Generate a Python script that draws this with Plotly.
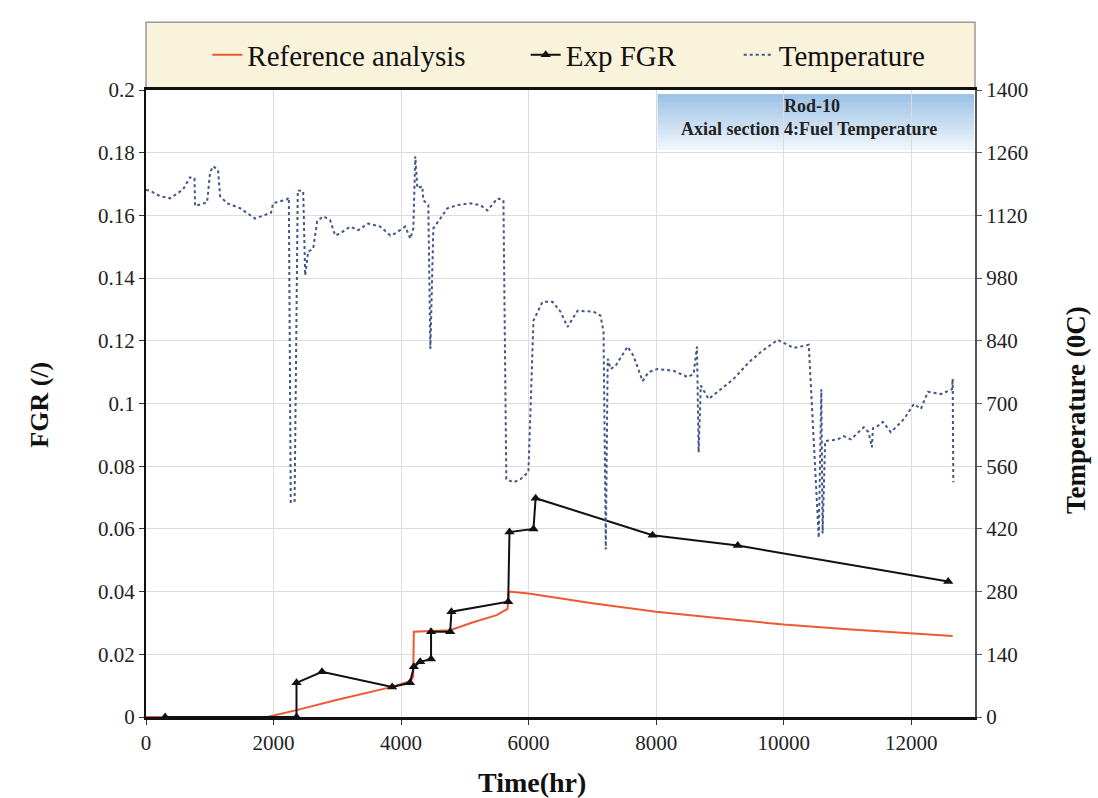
import plotly.graph_objects as go

# ---------------- data ----------------
ref_x = [0, 1900, 2360, 3000, 3860, 4150, 4190, 4200, 4770, 5130, 5500, 5670, 5690,
         6000, 7000, 8000, 9000, 10000, 11000, 12000, 12650]
ref_y = [0, 0, 0.0022, 0.0055, 0.0096, 0.0115, 0.0128, 0.0272, 0.0277, 0.0302, 0.0325,
         0.0345, 0.0400, 0.0394, 0.0363, 0.0336, 0.0315, 0.0295, 0.0280, 0.0268, 0.0258]

exp_x = [300, 2360, 2360, 2760, 3860, 4140, 4200, 4300, 4470, 4470, 4770, 4790,
         5680, 5700, 6076, 6110, 7944, 9280, 12580]
exp_y = [0, 0, 0.0109, 0.0144, 0.0096, 0.0109, 0.0160, 0.0176, 0.0185, 0.0272,
         0.0272, 0.0336, 0.0368, 0.0590, 0.0600, 0.0698, 0.0580, 0.0547, 0.0432]

temp_x = [0, 63, 220, 377, 581, 690, 760, 770, 958, 1005, 1052, 1130, 1162, 1272,
          1476, 1711, 1960, 1994, 2214, 2240, 2270, 2330, 2380, 2465, 2496, 2543,
          2622, 2685, 2779, 2889, 2967, 3046, 3203, 3328, 3485, 3674, 3831, 3909,
          4066, 4145, 4192, 4223, 4255, 4333, 4349, 4427, 4459, 4506, 4616, 4726,
          4883, 5087, 5244, 5354, 5511, 5605, 5650, 5762, 5872, 5997, 6076, 6217,
          6374, 6500, 6610, 6767, 7018, 7128, 7175, 7210, 7240, 7285, 7363, 7552,
          7646, 7787, 7881, 8023, 8274, 8494, 8588, 8640, 8666, 8700, 8823, 8965,
          9216, 9440, 9640, 9906, 10158, 10393, 10550, 10590, 10610, 10650, 10849,
          10943, 11053, 11257, 11330, 11383, 11400, 11477, 11555, 11681, 11885,
          12042, 12152, 12262, 12466, 12640, 12650, 12660]
temp_y = [1177, 1175, 1163, 1158, 1178, 1205, 1203, 1141, 1149, 1216, 1230, 1221,
          1163, 1147, 1136, 1113, 1126, 1147, 1156, 1160, 480, 480, 1176, 1174, 986,
          1039, 1046, 1107, 1118, 1109, 1075, 1080, 1095, 1087, 1102, 1095, 1075,
          1080, 1095, 1068, 1091, 1252, 1181, 1185, 1154, 1143, 822, 1091, 1113,
          1136, 1143, 1147, 1143, 1131, 1158, 1154, 531, 524, 531, 547, 885, 927,
          927, 905, 871, 907, 905, 896, 860, 374, 800, 777, 784, 827, 806, 750,
          770, 777, 773, 759, 766, 827, 591, 740, 710, 726, 755, 790, 815, 842,
          824, 831, 400, 732, 410, 616, 620, 627, 620, 647, 636, 602, 645, 650,
          659, 636, 665, 699, 688, 726, 721, 732, 755, 524]

x_ticks = [0, 2000, 4000, 6000, 8000, 10000, 12000]
x_tick_text = ["0", "2000", "4000", "6000", "8000", "10000", "12000"]
fgr_ticks = [0, 0.02, 0.04, 0.06, 0.08, 0.1, 0.12, 0.14, 0.16, 0.18, 0.2]
fgr_tick_text = ["0", "0.02", "0.04", "0.06", "0.08", "0.1", "0.12", "0.14", "0.16", "0.18", "0.2"]
temp_ticks = [0, 140, 280, 420, 560, 700, 840, 980, 1120, 1260, 1400]
temp_tick_text = [str(v) for v in temp_ticks]

FONT = "Liberation Serif"

fig = go.Figure()
fig.add_trace(go.Scatter(x=temp_x, y=temp_y, mode="lines", name="Temperature",
                         line=dict(color="#40568c", width=2, dash="dot"),
                         yaxis="y2", legend="legend3", showlegend=True))
fig.add_trace(go.Scatter(x=ref_x, y=ref_y, mode="lines", name="Reference analysis",
                         line=dict(color="#ec5a32", width=2), legend="legend",
                         showlegend=True))
fig.add_trace(go.Scatter(x=exp_x, y=exp_y, mode="lines+markers", name="Exp FGR",
                         line=dict(color="#111111", width=2),
                         marker=dict(symbol="triangle-up", size=9, color="#111111"),
                         legend="legend2", showlegend=True))

# legend background box
fig.add_shape(type="rect", xref="paper", yref="paper", x0=0, x1=1, y0=1.003, y1=1.108,
              fillcolor="#faf3dc", line=dict(color="#9a9a9a", width=1.5), layer="below")

# gradient annotation box
n = 14
top = (157, 195, 230)
bot = (240, 245, 252)
y_top, y_bot = 0.9936, 0.9043
for i in range(n):
    t = i / (n - 1)
    c = tuple(int(top[k] + (bot[k] - top[k]) * t) for k in range(3))
    ya = y_top - (y_top - y_bot) * i / n
    yb = y_top - (y_top - y_bot) * (i + 1) / n
    fig.add_shape(type="rect", xref="paper", yref="paper", x0=0.617, x1=0.999,
                  y0=yb, y1=ya, fillcolor="rgb(%d,%d,%d)" % c, line=dict(width=0),
                  layer="below")

fig.add_annotation(xref="paper", yref="paper", x=0.803, y=0.9745, showarrow=False,
                   text="<b>Rod-10</b>", font=dict(family=FONT, size=18, color="#222"),
                   xanchor="center", yanchor="middle")
fig.add_annotation(xref="paper", yref="paper", x=0.80, y=0.9378, showarrow=False,
                   text="<b>Axial section 4:Fuel Temperature</b>",
                   font=dict(family=FONT, size=18, color="#222"),
                   xanchor="center", yanchor="middle")

# axis titles
fig.add_annotation(xref="paper", yref="paper", x=0.4656, y=-0.104, showarrow=False,
                   text="<b>Time(hr)</b>", font=dict(family=FONT, size=28, color="#111"),
                   xanchor="center", yanchor="middle")
fig.add_annotation(xref="paper", yref="paper", x=-0.128, y=0.498, showarrow=False,
                   text="<b>FGR (/)</b>", textangle=-90,
                   font=dict(family=FONT, size=26, color="#111"),
                   xanchor="center", yanchor="middle")
fig.add_annotation(xref="paper", yref="paper", x=1.121, y=0.49, showarrow=False,
                   text="<b>Temperature (0C)</b>", textangle=-90,
                   font=dict(family=FONT, size=27, color="#111"),
                   xanchor="center", yanchor="middle")

legend_common = dict(orientation="h", yanchor="middle", y=1.056, xanchor="left",
                     bgcolor="rgba(0,0,0,0)", font=dict(family=FONT, size=29, color="#111"),
                     visible=True)

fig.update_layout(
    width=1098, height=798,
    showlegend=True,
    margin=dict(l=146, r=123, t=90, b=81),
    paper_bgcolor="white", plot_bgcolor="white",
    font=dict(family=FONT, size=21, color="#222"),
    legend=dict(x=0.074, **legend_common),
    legend2=dict(x=0.458, **legend_common),
    legend3=dict(x=0.715, **legend_common),
    xaxis=dict(range=[0, 13000], tickvals=x_ticks, ticktext=x_tick_text,
               showgrid=True, gridcolor="#dcdcdc", gridwidth=1,
               showline=True, linecolor="#111", linewidth=3, mirror=True,
               ticks="outside", ticklen=5, tickcolor="#333", zeroline=False,
               tickfont=dict(family=FONT, size=21, color="#222")),
    yaxis=dict(range=[0, 0.2], tickvals=fgr_ticks, ticktext=fgr_tick_text,
               showgrid=True, gridcolor="#dcdcdc", gridwidth=1,
               showline=True, linecolor="#111", linewidth=2,
               ticks="outside", ticklen=5, tickcolor="#333", zeroline=False,
               tickfont=dict(family=FONT, size=21, color="#222")),
    yaxis2=dict(range=[0, 1400], tickvals=temp_ticks, ticktext=temp_tick_text,
                overlaying="y", side="right", showgrid=False,
                showline=True, linecolor="#555", linewidth=2,
                ticks="outside", ticklen=5, tickcolor="#555", zeroline=False,
                tickfont=dict(family=FONT, size=21, color="#222")),
)

fig.write_html("out.html", post_script="document.body.style.margin='0px';",
               config={"displayModeBar": False})
